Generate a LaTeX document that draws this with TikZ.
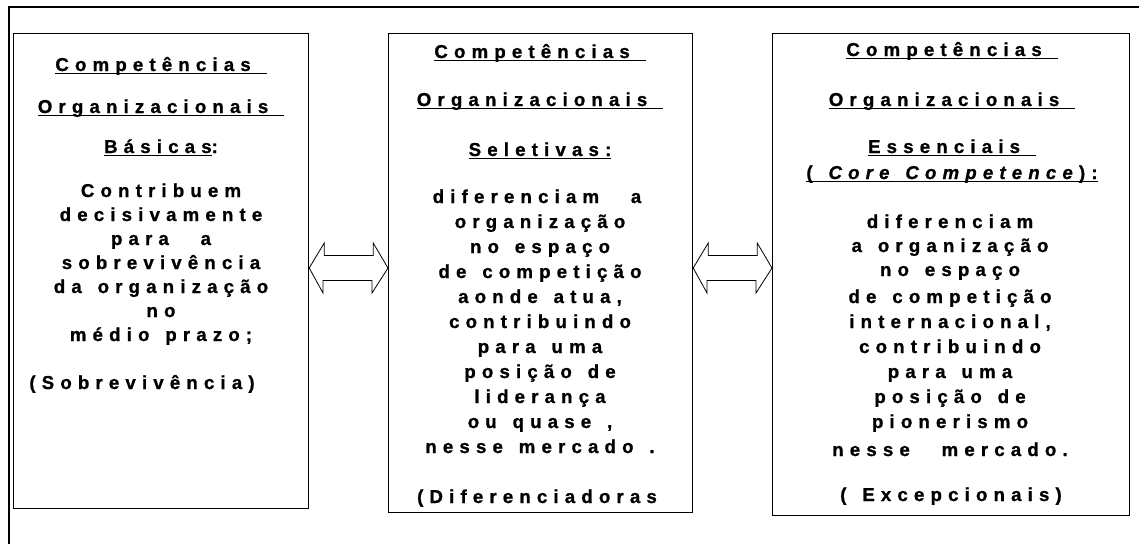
\documentclass[tikz,border=0pt]{standalone}
\usepackage{fontspec}
\setmainfont{Liberation Sans}
\newfontfamily\fbold{Liberation Sans Bold}[LetterSpace=33, WordSpace=1.4, FakeBold=1, ItalicFont={Liberation Sans Bold Italic}]
\newcommand\ulx[1]{\setbox0=\hbox{#1}\rlap{\rule[-2.6pt]{\wd0}{1pt}}\box0}
\begin{document}
\begin{tikzpicture}[x=0.75pt,y=-0.75pt,
  txt/.style={font=\fbold\fontsize{14pt}{16pt}\selectfont, inner sep=0pt, anchor=base},
  box/.style={draw, line width=0.9pt, anchor=north west, inner sep=0pt},
  frame/.style={draw, line width=1.5pt},
  blockarrow/.style={draw, line width=0.6pt, fill=white}]
\useasboundingbox (0,0) rectangle (1139,544);
% outer frame
\draw[frame] (1139,7) -- (9,7) -- (9,544);
% boxes
\node[box, minimum width=221.25pt, minimum height=356.25pt] (b1) at (13,33) {};
\node[box, minimum width=228pt, minimum height=359.25pt] (b2) at (388,33) {};
\node[box, minimum width=267.75pt, minimum height=361.5pt] (b3) at (772,33) {};
% arrows
\coordinate (ay) at (0,268);
\coordinate (a1) at (b1.east |- ay);
\coordinate (a2) at (b2.east |- ay);
\draw[blockarrow] (a1) -- ++(15,-25) -- ++(0,12.5) -- ++(49,0) -- ++(0,-12.5) -- (b2.west |- ay)
  -- ++(-16,25) -- ++(0,-12.5) -- ++(-49,0) -- ++(0,12.5) -- cycle;
\draw[blockarrow] (a2) -- ++(15,-25) -- ++(0,12.5) -- ++(49,0) -- ++(0,-12.5) -- (b3.west |- ay)
  -- ++(-16,25) -- ++(0,-12.5) -- ++(-49,0) -- ++(0,12.5) -- cycle;
% box 1 text
\node[txt] (t101) at (161,71) {\ulx{Competências }};
\node[txt] (t102) at (161,113) {\ulx{Organizacionais }};
\node[txt] (t103) at (161,153) {\ulx{Básicas}:};
\node[txt] (t104) at (161,197) {Contribuem};
\node[txt] (t105) at (161,221) {decisivamente};
\node[txt] (t106) at (161,245) {para~~a};
\node[txt] (t107) at (161,269) {sobrevivência};
\node[txt] (t108) at (161,293) {da organização};
\node[txt] (t109) at (161,317) {no};
\node[txt] (t110) at (161,341) {médio prazo;};
\node[txt] (t111) at (142,389) {(Sobrevivência)};
% box 2 text
\node[txt] (t201) at (540,58) {\ulx{Competências }};
\node[txt] (t202) at (540,106) {\ulx{Organizacionais }};
\node[txt] (t203) at (540,156) {\ulx{Seletivas:}};
\node[txt] (t204) at (537,203) {diferenciam~~a};
\node[txt] (t205) at (540,228) {organização};
\node[txt] (t206) at (540,253) {no espaço};
\node[txt] (t207) at (540,278) {de competição};
\node[txt] (t208) at (540,303) {aonde atua,};
\node[txt] (t209) at (540,328) {contribuindo};
\node[txt] (t210) at (540,353) {para uma};
\node[txt] (t211) at (540,378) {posição de};
\node[txt] (t212) at (540,403) {liderança};
\node[txt] (t213) at (540,428) {ou quase ,};
\node[txt] (t214) at (540,453) {nesse mercado .};
\node[txt] (t215) at (537,503) {(Diferenciadoras};
% box 3 text
\node[txt] (t301) at (952,56) {\ulx{Competências }};
\node[txt] (t302) at (952,106) {\ulx{Organizacionais }};
\node[txt] (t303) at (952,153) {\ulx{Essenciais }};
\node[txt] (t304) at (952,179) {\ulx{( \textit{Core Competence}):}};
\node[txt] (t305) at (950,228) {diferenciam};
\node[txt] (t306) at (950,252) {a organização};
\node[txt] (t307) at (950,276) {no espaço};
\node[txt] (t308) at (950,303) {de competição};
\node[txt] (t309) at (950,328) {internacional,};
\node[txt] (t310) at (950,353) {contribuindo};
\node[txt] (t311) at (950,378) {para uma};
\node[txt] (t312) at (950,403) {posição de};
\node[txt] (t313) at (950,428) {pionerismo};
\node[txt] (t314) at (950,456) {nesse~~mercado.};
\node[txt] (t315) at (951,501) {( Excepcionais)};
\end{tikzpicture}
\end{document}
